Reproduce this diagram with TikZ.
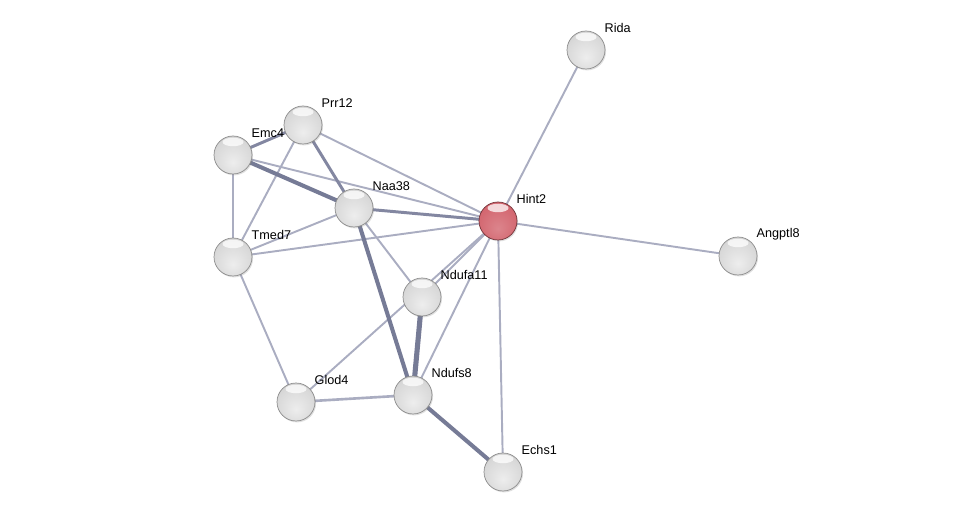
\documentclass[tikz,border=0pt]{standalone}
\usepackage{fontspec}
\setmainfont{Liberation Sans}
\usepackage{xcolor}
\usepackage{tikz}
\usetikzlibrary{positioning, backgrounds, shadows}

\definecolor{edgelt}{RGB}{170,173,193}
\definecolor{edgedk}{RGB}{118,123,150}
\definecolor{hintred}{RGB}{208,92,102}

\pgfdeclareradialshading{greyball}{\pgfpoint{0bp}{-10bp}}{%
  color(0bp)=(gray!14); color(25bp)=(gray!30); color(40bp)=(gray!42);
  color(50bp)=(gray!68); color(60bp)=(gray!92)}
\pgfdeclareradialshading{redball}{\pgfpoint{0bp}{-10bp}}{%
  color(0bp)=(hintred!75!white); color(25bp)=(hintred!92!white); color(40bp)=(hintred);
  color(50bp)=(hintred!80!black); color(60bp)=(hintred!60!black)}

\tikzset{
  prot/.style={circle, minimum size=0.76cm, inner sep=0pt, draw=gray!90,
               line width=0.4pt, shading=greyball,
               drop shadow={opacity=0.25, shadow xshift=0.6pt, shadow yshift=-0.8pt},
               path picture={\fill[white, opacity=0.75]
                 ([yshift=-0.12cm]path picture bounding box.north)
                 ellipse (0.21cm and 0.085cm);}},
  query/.style={prot, draw=hintred!55!black, shading=redball},
  lbl/.style={font=\fontsize{7.2}{8}\selectfont, anchor=west, inner sep=0pt,
              xshift=-0.02cm, yshift=0.44cm},
  thin/.style={draw=edgelt, line width=1.1pt},
  mid/.style={draw=edgedk!75!edgelt, line width=1.7pt},
  wide/.style={draw=edgedk, line width=2.3pt},
  xwide/.style={draw=edgedk, line width=2.9pt},
}

\begin{document}
\begin{tikzpicture}[x=0.02cm, y=-0.02cm]
  \useasboundingbox (0,0) rectangle (976,516);

  \node[prot, label={[lbl]0:Rida}]    (rida) at (586,50)  {};
  \node[prot, label={[lbl]0:Prr12}]   (prr)  at (303,125) {};
  \node[prot, label={[lbl]0:Emc4}]    (emc)  at (233,155) {};
  \node[prot, label={[lbl]0:Naa38}]   (naa)  at (354,208) {};
  \node[query, label={[lbl]0:Hint2}]  (hint) at (498,221) {};
  \node[prot, label={[lbl]0:Tmed7}]   (tmed) at (233,257) {};
  \node[prot, label={[lbl]0:Angptl8}] (ang)  at (738,256) {};
  \node[prot, label={[lbl]0:Ndufa11}] (ndfa) at (422,297) {};
  \node[prot, label={[lbl]0:Glod4}]   (glod) at (296,402) {};
  \node[prot, label={[lbl]0:Ndufs8}]  (ndfs) at (413,395) {};
  \node[prot, label={[lbl]0:Echs1}]   (echs) at (503,472) {};

  % edges behind the spheres
  \begin{scope}[on background layer]
    \draw[thin] (rida.center) -- (hint.center);
    \draw[thin] (hint.center) -- (ang.center);
    \draw[thin] (hint.center) -- (echs.center);
    \draw[thin] (hint.center) -- (prr.center);
    \draw[thin] (hint.center) -- (emc.center);
    \draw[mid]  (hint.center) -- (naa.center);
    \draw[thin] (hint.center) -- (tmed.center);
    \draw[thin] (hint.center) -- (ndfa.center);
    \draw[thin] (hint.center) -- (glod.center);
    \draw[thin] (hint.center) -- (ndfs.center);
    \draw[mid]  (prr.center)  -- (emc.center);
    \draw[mid]  (prr.center)  -- (naa.center);
    \draw[thin] (prr.center)  -- (tmed.center);
    \draw[wide] (emc.center)  -- (naa.center);
    \draw[thin] (emc.center)  -- (tmed.center);
    \draw[thin] (naa.center)  -- (tmed.center);
    \draw[wide] (naa.center)  -- (ndfs.center);
    \draw[thin] (naa.center)  -- (ndfa.center);
    \draw[thin] (tmed.center) -- (glod.center);
    \draw[thin, line width=1.5pt] (glod.center) -- (ndfs.center);
    \draw[xwide](ndfa.center) -- (ndfs.center);
    \draw[wide] (ndfs.center) -- (echs.center);
  \end{scope}
\end{tikzpicture}
\end{document}
